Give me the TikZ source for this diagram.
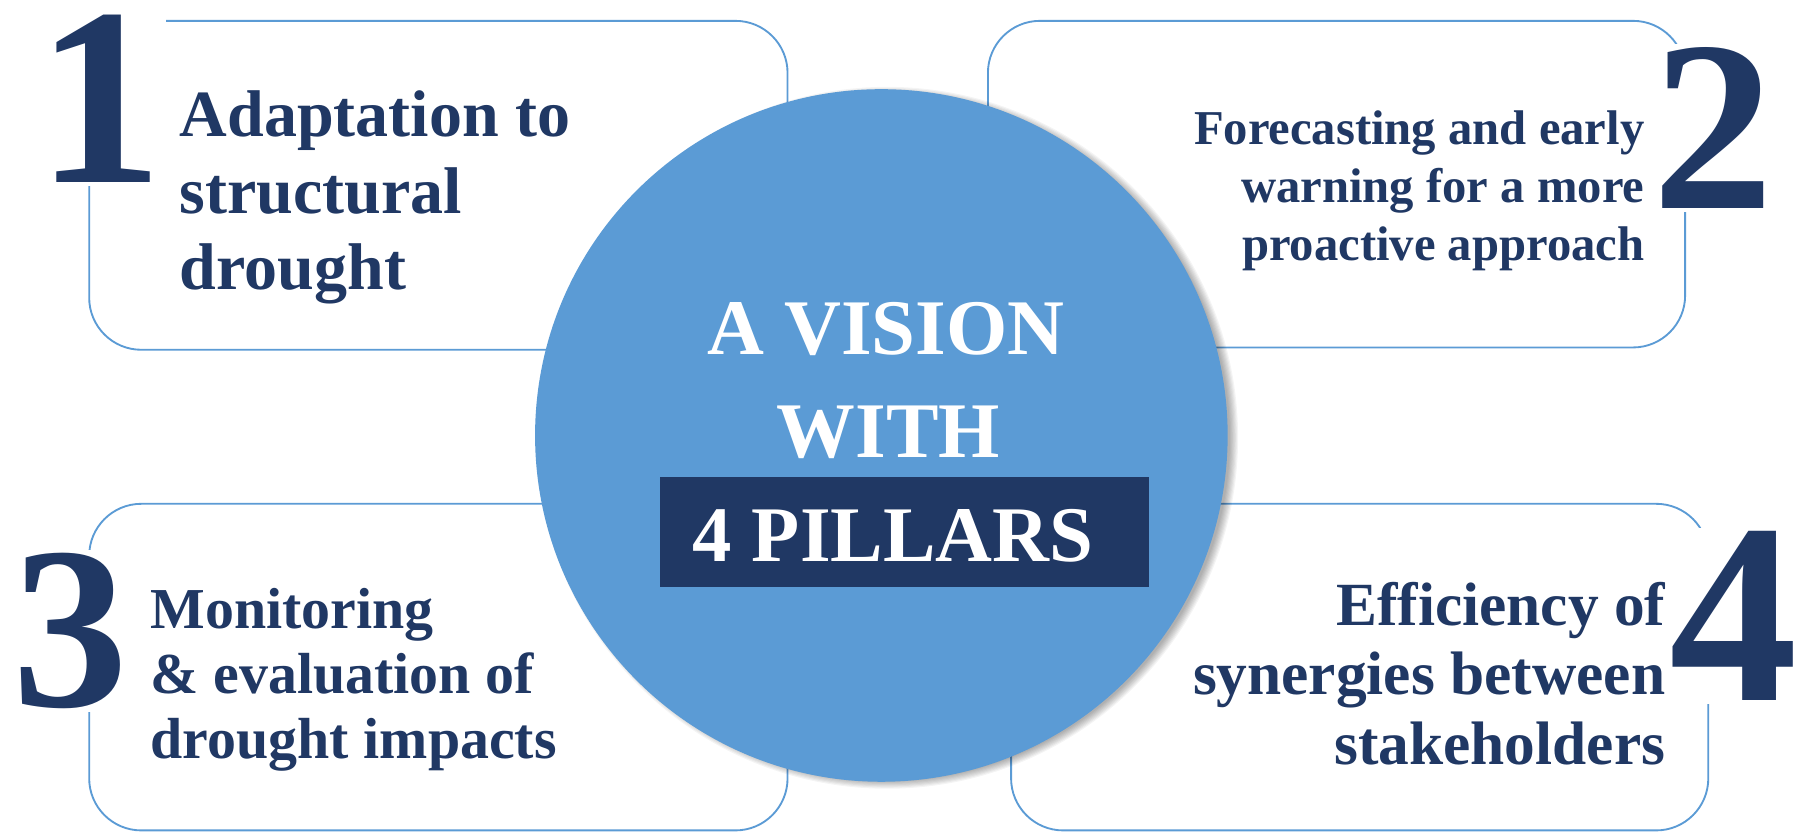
\documentclass[tikz,border=0pt]{standalone}
\usepackage{fontspec}
\setmainfont{Liberation Serif}
\definecolor{navy}{HTML}{203864}
\definecolor{sky}{HTML}{5B9BD5}
\begin{document}
\begin{tikzpicture}[x=1pt,y=-1pt,
  pillarbox/.style={draw=sky, line width=1.6pt, rounded corners=45pt, inner sep=0pt},
  digit/.style={fill=white, text=navy, inner sep=3pt, anchor=base},
  lefttext/.style={text=navy, align=left, anchor=base west, inner sep=0pt},
  righttext/.style={text=navy, align=right, anchor=base east, inner sep=0pt},
  vision/.style={text=white, inner sep=0pt, anchor=base, font=\fontsize{68}{68}\selectfont\bfseries},
]
\useasboundingbox (0,0) rectangle (1568,718);
\fill[white] (0,0) rectangle (1568,718);

% the four pillar frames
\node[pillarbox, minimum width=603pt, minimum height=284pt] (b1) at (378.5,160) {};
\node[pillarbox, minimum width=602pt, minimum height=282pt] (b2) at (1154,159) {};
\node[pillarbox, minimum width=603pt, minimum height=282pt] (b3) at (378.5,576) {};
\node[pillarbox, minimum width=602pt, minimum height=282pt] (b4) at (1174,576) {};

% big numerals
\node[digit, font=\fontsize{219}{219}\selectfont\bfseries] (n1) at (86,158) {1};
\node[digit, font=\fontsize{210}{210}\selectfont\bfseries] (n2) at (1479,180) {2};
\node[digit, font=\fontsize{200}{200}\selectfont\bfseries] (n3) at (61,610) {3};
\node[digit, font=\fontsize{222}{222}\selectfont\bfseries] (n4) at (1497,605) {4};

% pillar texts (placed by the baseline of their last line)
\node[lefttext, font=\fontsize{57}{66}\selectfont\bfseries] (t1) at (155,250)
  {Adaptation to\\structural\\drought};
\node[righttext, font=\fontsize{42}{50}\selectfont\bfseries] (t2) at (1420,225)
  {Forecasting and early\\warning for a more\\proactive approach};
\node[lefttext, font=\fontsize{50}{56}\selectfont\bfseries] (t3) at (130,655)
  {Monitoring\\\& evaluation of\\drought impacts};
\node[righttext, font=\fontsize{53}{60}\selectfont\bfseries] (t4) at (1438,660)
  {Efficiency of\\synergies between\\stakeholders};

% soft shadow of the central disc
\foreach \k in {1,...,8}
  \fill[black, opacity=0.045] (766,378) circle ({(304-\k)*1pt});

% central disc
\node[circle, fill=sky, minimum size=598pt, inner sep=0pt] (c) at (761,376) {};

% title band
\node[fill=navy, minimum width=422pt, minimum height=95pt, anchor=north west, inner sep=0pt] (band) at (570,412) {};

\node[vision] (v1) at (765,306) {A VISION};
\node[vision] (v2) at (767,395) {WITH};
\node[vision, anchor=base west] (v3) at (598,485) {4 PILLARS};
\end{tikzpicture}
\end{document}
